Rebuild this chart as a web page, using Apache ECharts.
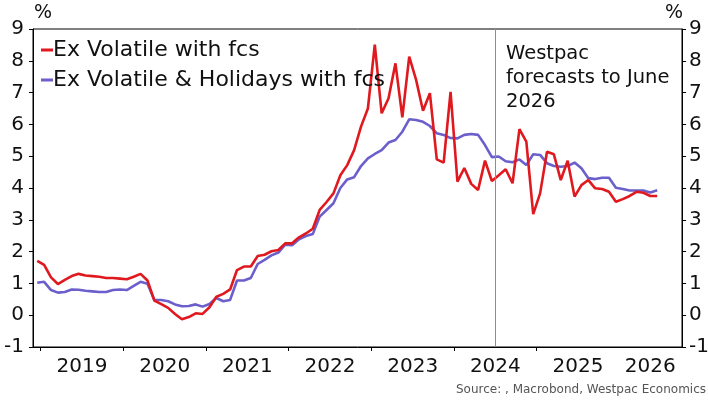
<!DOCTYPE html>
<html>
<head>
<meta charset="utf-8">
<script src="https://cdn.jsdelivr.net/npm/echarts@6/dist/echarts.min.js"></script>
<style>
html,body{margin:0;padding:0;background:#fff;}
#chart{width:708px;height:404px;}
</style>
</head>
<body>
<div id="chart"></div>
<script>
// Monthly observations, Dec 2018 .. Jun 2026 (mid-month points)
const firstMonth = { year: 2018, month: 12 };
const months = Array.from({ length: 91 }, (_, i) => {
  const m0 = firstMonth.month - 1 + i;
  const y = firstMonth.year + Math.floor(m0 / 12);
  const m = (m0 % 12) + 1;
  return y + '-' + String(m).padStart(2, '0');
});

const exVolatile = [
  1.71, 1.58, 1.19, 0.98, 1.11, 1.23, 1.30, 1.25, 1.23, 1.21, 1.17, 1.17, 1.15,
  1.13, 1.21, 1.30, 1.09, 0.46, 0.35, 0.23, 0.04, -0.13, -0.06, 0.06, 0.04, 0.25,
  0.58, 0.67, 0.81, 1.42, 1.53, 1.53, 1.86, 1.90, 2.01, 2.05, 2.26, 2.26, 2.45,
  2.57, 2.72, 3.31, 3.56, 3.83, 4.40, 4.72, 5.19, 5.93, 6.50, 8.51, 6.35, 6.82,
  7.92, 6.22, 8.13, 7.40, 6.43, 6.98, 4.90, 4.80, 7.02, 4.20, 4.63, 4.13, 3.94,
  4.86, 4.22, 4.40, 4.59, 4.15, 5.85, 5.46, 3.18, 3.83, 5.14, 5.06, 4.25, 4.86,
  3.73, 4.09, 4.25, 3.99, 3.97, 3.88, 3.57, 3.65, 3.75, 3.88, 3.85, 3.75, 3.75
];
const exVolHol = [
  1.02, 1.05, 0.79, 0.71, 0.73, 0.81, 0.80, 0.77, 0.75, 0.73, 0.73, 0.79, 0.81,
  0.79, 0.92, 1.05, 0.99, 0.48, 0.48, 0.44, 0.34, 0.28, 0.29, 0.34, 0.27, 0.35,
  0.54, 0.44, 0.48, 1.09, 1.09, 1.17, 1.61, 1.74, 1.88, 1.97, 2.22, 2.20, 2.39,
  2.49, 2.55, 3.10, 3.31, 3.52, 4.00, 4.27, 4.34, 4.69, 4.93, 5.07, 5.19, 5.43,
  5.51, 5.77, 6.16, 6.14, 6.08, 5.95, 5.72, 5.67, 5.57, 5.56, 5.67, 5.70, 5.67,
  5.35, 4.97, 4.99, 4.84, 4.81, 4.90, 4.72, 5.06, 5.04, 4.78, 4.69, 4.67, 4.69,
  4.80, 4.62, 4.31, 4.28, 4.32, 4.32, 4.01, 3.97, 3.92, 3.92, 3.92, 3.86, 3.93
];
const seriesNames = ['Ex Volatile with fcs', 'Ex Volatile & Holidays with fcs'];
const yearLabels = ['2019', '2020', '2021', '2022', '2023', '2024', '2025', '2026'];
const forecastStart = '2024-07';
const noteText = 'Westpac\nforecasts to June\n2026';
const sourceText = 'Source: , Macrobond, Westpac Economics';

// month position: months since Jan 2019, data plotted mid-month
function monthPos(label) {
  const [y, m] = label.split('-').map(Number);
  return (y - 2019) * 12 + (m - 1);
}
const toPoints = arr => arr.map((v, i) => [monthPos(months[i]) + 0.5, v]);

const FONT = '"DejaVu Sans"';
const tickVals = yearLabels.slice(0, 7).map((y, k) => k * 12);
const labelVals = yearLabels.map((y, k) => (k < 7 ? k * 12 + 6 : 88.5));

const chart = echarts.init(document.getElementById('chart'), null, { renderer: 'canvas' });
chart.setOption({
  animation: false,
  backgroundColor: '#fff',
  textStyle: { fontFamily: FONT },
  grid: {
    left: 33, right: 26, top: 29, bottom: 57, show: true,
    borderColor: '#000', borderWidth: 1,
    containLabel: false, outerBoundsMode: 'none'
  },
  legend: {
    data: seriesNames,
    orient: 'vertical',
    left: 36, top: 33,
    itemWidth: 12, itemHeight: 3, itemGap: 6,
    icon: 'rect',
    textStyle: { fontFamily: FONT, fontSize: 22, color: '#111', lineHeight: 24, padding: [0, 0, 0, -5] }
  },
  xAxis: {
    type: 'value',
    min: -1.118, max: 93.1,
    axisLine: { show: true, onZero: false, lineStyle: { color: '#000', width: 1 } },
    axisTick: { show: true, length: 4, lineStyle: { color: '#000' }, customValues: tickVals },
    axisLabel: {
      customValues: labelVals,
      formatter: v => yearLabels[labelVals.indexOf(v)],
      fontFamily: FONT, fontSize: 20, color: '#111', margin: 10
    },
    splitLine: { show: false }
  },
  yAxis: [
    {
      type: 'value', min: -1, max: 9, interval: 1, position: 'left',
      axisLine: { show: true, onZero: false, lineStyle: { color: '#000' } },
      axisTick: { show: true, length: 4, lineStyle: { color: '#000' } },
      axisLabel: { fontFamily: FONT, fontSize: 20, color: '#111', margin: 9 },
      splitLine: { show: false }
    },
    {
      type: 'value', min: -1, max: 9, interval: 1, position: 'right',
      axisLine: { show: true, onZero: false, lineStyle: { color: '#000' } },
      axisTick: { show: true, length: 4, lineStyle: { color: '#000' } },
      axisLabel: { fontFamily: FONT, fontSize: 20, color: '#111', margin: 7 },
      splitLine: { show: false }
    }
  ],
  series: [
    {
      name: seriesNames[1], type: 'line', data: toPoints(exVolHol),
      showSymbol: false, symbol: 'none',
      lineStyle: { color: '#6b5fcc', width: 2.6 }, itemStyle: { color: '#6b5fcc' },
      z: 2
    },
    {
      name: seriesNames[0], type: 'line', data: toPoints(exVolatile),
      showSymbol: false, symbol: 'none',
      lineStyle: { color: '#e0191f', width: 2.6 }, itemStyle: { color: '#e0191f' },
      z: 3,
      markLine: {
        silent: true, symbol: 'none', label: { show: false },
        lineStyle: { color: '#8c8c8c', width: 1, type: 'solid' },
        data: [{ xAxis: monthPos(forecastStart) }]
      }
    }
  ],
  graphic: [
    { type: 'text', left: 34, top: 4, style: { text: '%', font: '19px ' + FONT, fill: '#111' } },
    { type: 'text', left: 665, top: 4, style: { text: '%', font: '19px ' + FONT, fill: '#111' } },
    { type: 'text', left: 506, top: 42, style: { text: noteText, font: '19.5px ' + FONT, fill: '#111', lineHeight: 24 } },
    { type: 'text', right: 2, top: 384, style: { text: sourceText, font: '12px ' + FONT, fill: '#555' } }
  ]
});
</script>
</body>
</html>
